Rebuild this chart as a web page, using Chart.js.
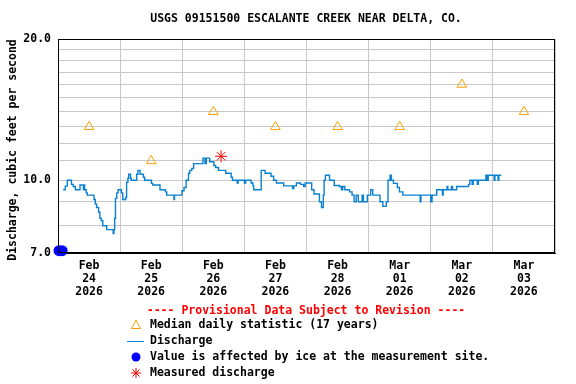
<!DOCTYPE html>
<html>
<head>
<meta charset="utf-8">
<script src="https://cdn.jsdelivr.net/npm/chart.js@4.4.1/dist/chart.umd.min.js"></script>
<style>
  body { margin: 0; background: #fff; }
  canvas { display: block; }
</style>
</head>
<body>
<canvas id="chart" width="576" height="384"></canvas>
<script>
// hours are counted from Feb 24 2026 00:00 (MST)
const tickMonths = ["Feb", "Feb", "Feb", "Feb", "Feb", "Mar", "Mar", "Mar"];
const tickDays = ["24", "25", "26", "27", "28", "01", "02", "03"];
const tickYear = "2026";
const yTickValues = [7, 8, 9, 10, 11, 12, 13, 14, 15, 16, 17, 18, 19, 20];
const yLabelled = [7, 10, 20];

// median daily statistic, one per day at noon
const medianHours = [12, 36, 60, 84, 108, 132, 156, 180];
const medianCfs = [13.0, 11.0, 14.0, 13.0, 13.0, 13.0, 16.0, 14.0];

// 15-minute discharge (value holds until next point)
const flowHours = [
  2.0, 2.8, 3.6, 5.2, 5.9, 6.7, 8.5, 9.8, 10.1, 10.3, 10.9, 11.3, 13.9, 14.4, 14.9,
  15.7, 16.2, 16.7, 17.3, 18.8, 21.3, 21.6, 21.9, 22.2, 22.7, 23.2, 24.5, 25.0, 26.2,
  26.5, 27.0, 27.3, 28.0, 28.3, 30.4, 30.9, 31.7, 33.0, 33.5, 36.1, 36.6, 39.4, 41.5,
  42.0, 44.8, 45.0, 47.9, 48.7, 49.5, 50.4, 50.9, 51.7, 52.4, 56.0, 56.8, 57.3, 58.6,
  60.2, 60.9, 62.0, 64.8, 66.9, 67.4, 69.2, 69.6, 72.0, 72.5, 74.6, 75.3, 75.6, 78.5,
  80.0, 82.3, 83.3, 84.4, 87.2, 90.6, 91.1, 92.1, 93.7, 94.9, 95.5, 98.0, 98.9, 101.0,
  101.8, 102.5, 102.8, 103.3, 104.9, 106.7, 108.7, 109.5, 110.0, 110.8, 112.6, 113.6,
  114.4, 115.2, 116.0, 117.5, 118.0, 119.5, 120.8, 121.6, 124.4, 125.5, 126.8, 127.5,
  128.3, 128.8, 129.6, 131.1, 131.9, 133.2, 139.9, 140.2, 144.0, 144.5, 146.3, 148.5,
  148.8, 150.3, 150.6, 152.0, 152.4, 154.0, 157.6, 158.6, 159.1, 160.0, 160.4, 162.0,
  162.4, 165.3, 165.8, 166.2, 168.5, 168.8, 170.0, 170.3, 171.2
];
const flowCfs = [
  9.55, 9.72, 10.0, 9.8, 9.7, 9.55, 9.77, 9.55, 9.77, 9.55, 9.4, 9.3, 9.1, 8.9, 8.75,
  8.55, 8.3, 8.2, 8.0, 7.85, 7.7, 7.85, 8.3, 9.15, 9.4, 9.55, 9.4, 9.1, 9.2,
  9.9, 10.1, 10.3, 10.1, 10.0, 10.3, 10.5, 10.3, 10.15, 10.0, 9.85, 9.77, 9.55, 9.45,
  9.3, 9.1, 9.3, 9.5, 9.65, 10.0, 10.35, 10.5, 10.6, 10.85, 11.15, 10.85, 11.15, 10.95,
  10.75, 10.65, 10.5, 10.35, 10.15, 10.0, 9.87, 10.0, 9.87, 10.0, 9.87, 9.73, 9.55, 10.5,
  10.35, 10.2, 10.0, 9.87, 9.73, 9.6, 9.73, 9.87, 9.8, 9.7, 9.87, 9.55, 9.35, 9.0,
  8.75, 9.3, 10.0, 10.25, 10.0, 9.75, 9.7, 9.55, 9.7, 9.55, 9.45, 9.3,
  9.0, 9.3, 9.0, 9.3, 9.0, 9.3, 9.55, 9.3, 9.0, 8.8, 9.0, 10.0,
  10.25, 10.0, 9.85, 9.65, 9.45, 9.3, 9.0, 9.3, 9.0, 9.3, 9.55, 9.3,
  9.55, 9.7, 9.55, 9.7, 9.55, 9.7, 9.7, 9.8, 10.0, 9.8, 10.0, 9.8,
  10.0, 10.25, 10.0, 10.25, 10.0, 10.25, 10.0, 10.25, 10.25
];

// ice affected values and field measurement
const iceHours = [0.4, 1.6];
const iceCfs = [7.08, 7.08];
const measuredHours = [63.0];
const measuredCfs = [11.25];

const FONT = "'DejaVu Sans Mono', 'Liberation Mono', monospace";

const toPoints = (xs, ys) => xs.map((x, i) => ({ x: x, y: ys[i] }));

// title, axis title, frame and legend drawn straight onto the canvas
const decorations = {
  id: "decorations",
  afterDraw(chart) {
    const ctx = chart.ctx;
    const area = chart.chartArea;
    ctx.save();

    ctx.strokeStyle = "#000";
    ctx.lineWidth = 1;
    ctx.strokeRect(area.left + 0.5, area.top + 0.5, area.right - area.left - 1, area.bottom - area.top - 1);

    ctx.font = "bold 11.5px " + FONT;
    ctx.fillStyle = "#000";
    ctx.textAlign = "center";
    ctx.textBaseline = "middle";
    ctx.fillText("USGS 09151500 ESCALANTE CREEK NEAR DELTA, CO.", 306, 19);

    ctx.save();
    ctx.translate(13, 150);
    ctx.rotate(-Math.PI / 2);
    ctx.fillText("Discharge, cubic feet per second", 0, 0);
    ctx.restore();

    ctx.fillStyle = "#f00";
    ctx.fillText("---- Provisional Data Subject to Revision ----", 306, 311);

    ctx.textAlign = "left";
    ctx.fillStyle = "#000";
    ctx.fillText("Median daily statistic (17 years)", 150, 325);
    ctx.fillText("Discharge", 150, 341);
    ctx.fillText("Value is affected by ice at the measurement site.", 150, 357);
    ctx.fillText("Measured discharge", 150, 373);

    // legend symbols
    ctx.strokeStyle = "#ffa000";
    ctx.beginPath();
    ctx.moveTo(136, 320);
    ctx.lineTo(140.5, 328.5);
    ctx.lineTo(131.5, 328.5);
    ctx.closePath();
    ctx.stroke();

    ctx.strokeStyle = "#0a80d0";
    ctx.beginPath();
    ctx.moveTo(127, 341.5);
    ctx.lineTo(144, 341.5);
    ctx.stroke();

    ctx.fillStyle = "#0000ff";
    ctx.beginPath();
    ctx.arc(136, 357, 4.5, 0, Math.PI * 2);
    ctx.fill();

    ctx.strokeStyle = "#f00";
    ctx.beginPath();
    for (let k = 0; k < 4; k++) {
      const a = k * Math.PI / 4;
      ctx.moveTo(136 - 5 * Math.cos(a), 373 - 5 * Math.sin(a));
      ctx.lineTo(136 + 5 * Math.cos(a), 373 + 5 * Math.sin(a));
    }
    ctx.stroke();

    ctx.restore();
  }
};

new Chart(document.getElementById("chart"), {
  type: "line",
  data: {
    datasets: [
      {
        label: "Discharge",
        data: toPoints(flowHours, flowCfs),
        stepped: true,
        borderColor: "#0a80d0",
        borderWidth: 1.4,
        pointRadius: 0,
        fill: false
      },
      {
        label: "Median daily statistic (17 years)",
        data: toPoints(medianHours, medianCfs),
        showLine: false,
        pointStyle: "triangle",
        pointRadius: 5.5,
        borderColor: "#ffa000",
        backgroundColor: "rgba(0,0,0,0)",
        borderWidth: 1
      },
      {
        label: "Value is affected by ice at the measurement site.",
        data: toPoints(iceHours, iceCfs),
        showLine: false,
        pointStyle: "circle",
        pointRadius: 5.5,
        borderWidth: 0,
        backgroundColor: "#0000ff",
        clip: false
      },
      {
        label: "Measured discharge",
        data: toPoints(measuredHours, measuredCfs),
        showLine: false,
        pointStyle: "star",
        pointRadius: 6,
        borderColor: "#f00",
        borderWidth: 1
      }
    ]
  },
  options: {
    responsive: false,
    animation: false,
    devicePixelRatio: 1,
    layout: { padding: { top: 39, right: 21, left: 0, bottom: 0 } },
    plugins: {
      legend: { display: false },
      tooltip: { enabled: false }
    },
    scales: {
      x: {
        type: "linear",
        min: 0,
        max: 192,
        afterFit: (s) => { s.height = 131; },
        afterBuildTicks: (s) => {
          const t = [];
          for (let h = 0; h <= 192; h += 12) t.push({ value: h });
          s.ticks = t;
        },
        grid: {
          drawTicks: false,
          color: (c) => (c.tick && c.tick.value % 24 === 0 ? "#c8c8c8" : "rgba(0,0,0,0)")
        },
        border: { color: "#000" },
        ticks: {
          autoSkip: false,
          maxRotation: 0,
          padding: 6,
          color: "#000",
          font: { family: FONT, size: 11.5, weight: "bold", lineHeight: 1.16 },
          callback: (v) => {
            if (v % 24 !== 12) return "";
            const i = (v - 12) / 24;
            return [tickMonths[i], tickDays[i], tickYear];
          }
        }
      },
      y: {
        type: "logarithmic",
        min: 7,
        max: 20,
        afterFit: (s) => { s.width = 58; },
        afterBuildTicks: (s) => {
          s.ticks = yTickValues.map((v) => ({ value: v }));
        },
        grid: { drawTicks: false, color: "#c8c8c8" },
        border: { color: "#000" },
        ticks: {
          autoSkip: false,
          padding: 7,
          color: "#000",
          font: { family: FONT, size: 11.5, weight: "bold" },
          callback: (v) => (yLabelled.includes(v) ? v.toFixed(1) : "")
        }
      }
    }
  },
  plugins: [decorations]
});
</script>
</body>
</html>
